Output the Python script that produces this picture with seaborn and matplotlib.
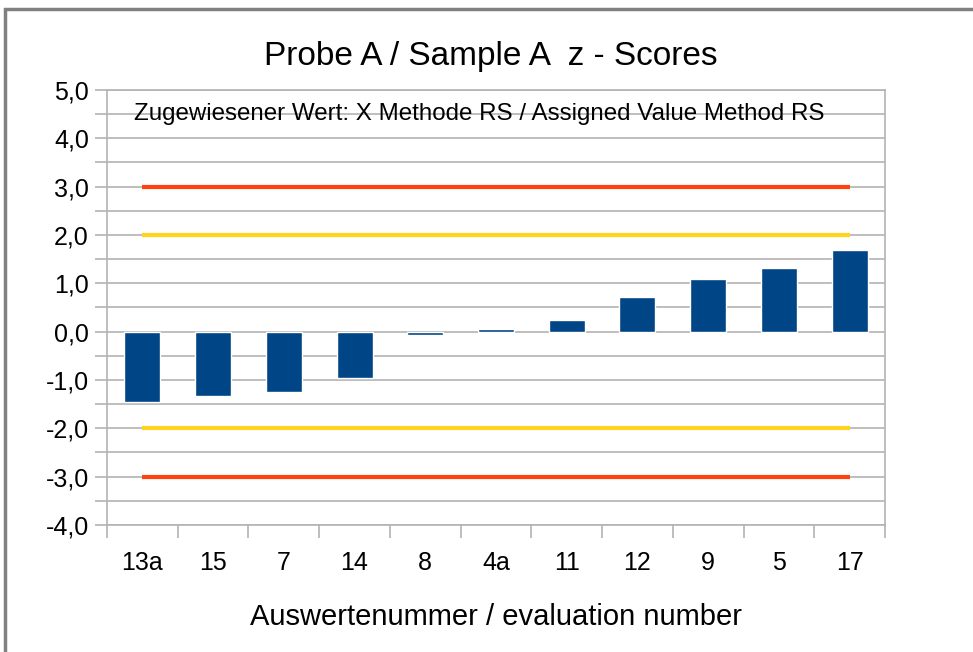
import matplotlib
matplotlib.use("Agg")
import matplotlib.pyplot as plt
import matplotlib.ticker as mticker
from matplotlib.patches import Rectangle
import seaborn as sns
import numpy as np

sns.set_theme(style="white")
plt.rcParams['font.family'] = ['Liberation Sans', 'DejaVu Sans']
plt.rcParams['text.color'] = 'black'
plt.rcParams['xtick.color'] = 'black'
plt.rcParams['ytick.color'] = 'black'
plt.rcParams['axes.labelcolor'] = 'black'

# z-scores per Auswertenummer
labels = ['13a', '15', '7', '14', '8', '4a', '11', '12', '9', '5', '17']
zscores = [-1.45, -1.34, -1.26, -0.97, -0.08, 0.05, 0.24, 0.71, 1.09, 1.32, 1.69]
warn_limit = 2.0
action_limit = 3.0

grey = '#b3b3b3'
fig = plt.figure(figsize=(9.73, 6.52), dpi=100)
ax = fig.add_axes([0.110, 0.195, 0.7995, 0.667])

sns.barplot(x=labels, y=zscores, color='#004586', width=0.51, saturation=1, ax=ax, zorder=3)

# warn / action limits, drawn from first to last category
n = len(labels)
for lim, col in [(warn_limit, '#ffd320'), (action_limit, '#ff420e')]:
    ax.hlines([lim, -lim], 0, n - 1, colors=col, lw=3, zorder=4)

ax.set_ylim(-4, 5)
ax.set_xlim(-0.5, n - 0.5)
ax.yaxis.set_major_locator(mticker.MultipleLocator(1))
ax.yaxis.set_minor_locator(mticker.MultipleLocator(0.5))
ax.yaxis.set_major_formatter(mticker.FuncFormatter(lambda v, p: f"{v:.1f}".replace('.', ',')))
ax.grid(True, axis='y', which='both', color=grey, lw=1.2, zorder=0)
ax.set_axisbelow(True)

ax.xaxis.set_minor_locator(mticker.FixedLocator(np.arange(-0.5, n, 1.0)))
ax.tick_params(axis='x', which='major', length=0, pad=19, labelsize=18)
ax.tick_params(axis='x', which='minor', length=9, width=1.2, color=grey, bottom=True)
ax.tick_params(axis='y', which='both', length=9, width=1.2, color=grey, left=True, pad=4, labelsize=18)

for s in ['left', 'right', 'bottom', 'top']:
    ax.spines[s].set_color(grey)
    ax.spines[s].set_linewidth(1.2)

ax.set_xlabel('Auswertenummer / evaluation number', fontsize=21, labelpad=20)
ax.set_ylabel('')
fig.text(0.504, 0.913, 'Probe A / Sample A  z - Scores', ha='center', va='center', fontsize=24)
ax.text(0.479, 0.944, 'Zugewiesener Wert: X Methode RS / Assigned Value Method RS',
        transform=ax.transAxes, ha='center', va='center', fontsize=17.4, zorder=1)

# outer frame like the office chart export
fig.patches.append(Rectangle((5 / 973, -0.1), 1.2, 1.1 - 9 / 652, transform=fig.transFigure,
                             fill=False, edgecolor='#808080', lw=2.5))

fig.savefig('out.png', dpi=100)
